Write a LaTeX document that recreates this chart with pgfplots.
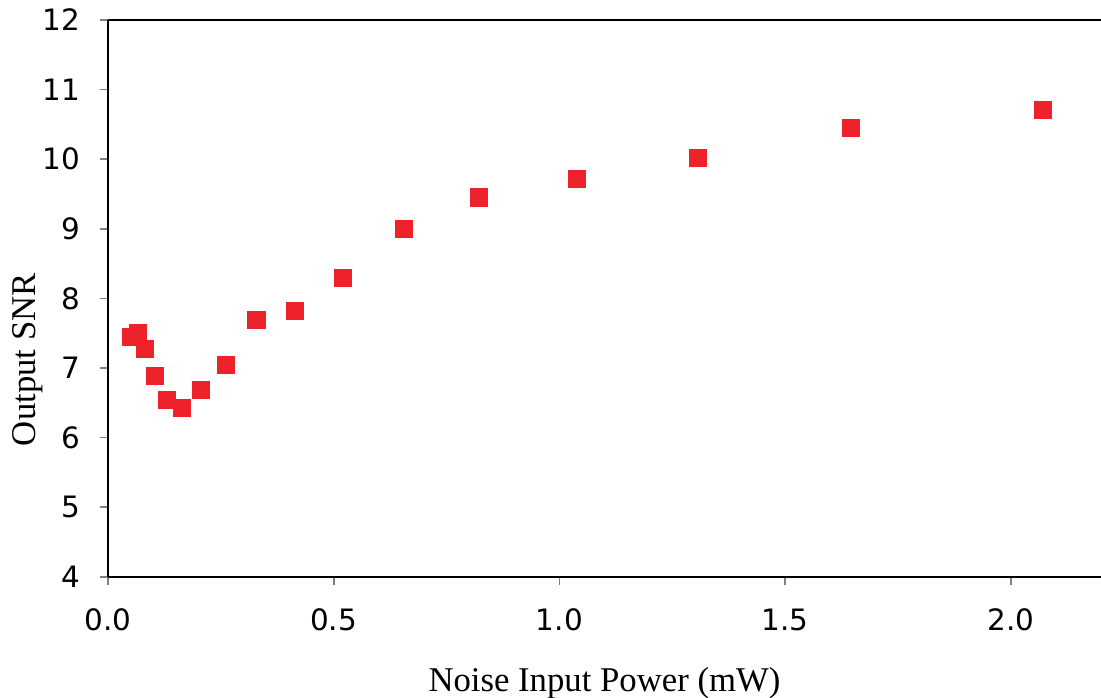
\documentclass[border=0pt]{standalone}
\usepackage{fontspec}
\setmainfont{Liberation Serif}
\newfontfamily\ticfont{DejaVu Sans}
\usepackage{pgfplots}
\pgfplotsset{compat=1.18}
\definecolor{mred}{RGB}{238,34,43}
\begin{document}
\begin{tikzpicture}
\begin{axis}[
  scale only axis,
  width=357.5pt, height=200.5pt,
  xmin=0, xmax=2.2, ymin=4, ymax=12,
  axis x line*=bottom, axis y line*=left,
  axis line style={black, line width=0.9pt},
  xtick={0,0.5,1,1.5,2}, ytick={4,5,...,12},
  tick align=outside,
  major tick length=2.9pt,
  tick style={gray, line width=0.6pt},
  /pgf/number format/assume math mode=true,
  xticklabel style={/pgf/number format/fixed, /pgf/number format/fixed zerofill, /pgf/number format/precision=1, yshift=-5pt},
  tick label style={font=\ticfont\fontsize{10.6}{12}\selectfont, black},
  yticklabel style={xshift=-3.5pt},
  xlabel={Noise Input Power (mW)},
  ylabel={Output SNR},
  label style={font=\fontsize{12.5}{14}\selectfont},
  xlabel style={at={(axis description cs:0.5,0)}, anchor=north, yshift=-29pt},
  ylabel style={at={(axis description cs:0,0.39)}, anchor=center, yshift=28.8pt},
  clip=false,
]
\addplot[only marks, mark=square*, mark size=3.05pt, mark options={fill=mred, draw=mred}] coordinates {
(0.052,7.44) (0.066,7.50) (0.083,7.27) (0.104,6.89) (0.131,6.54)
(0.165,6.42) (0.207,6.69) (0.262,7.05) (0.329,7.69) (0.414,7.82)
(0.521,8.29) (0.656,9.00) (0.823,9.45) (1.039,9.71) (1.307,10.02)
(1.646,10.45) (2.071,10.71)
};
\draw[black, line width=0.9pt] (rel axis cs:0,1) -- (rel axis cs:1,1);
\end{axis}
\pgfresetboundingbox
\path ([shift={(-38.88pt,-43.56pt)}]current axis.south west) rectangle ([shift={(0pt,7.2pt)}]current axis.north east);
\end{tikzpicture}
\end{document}
